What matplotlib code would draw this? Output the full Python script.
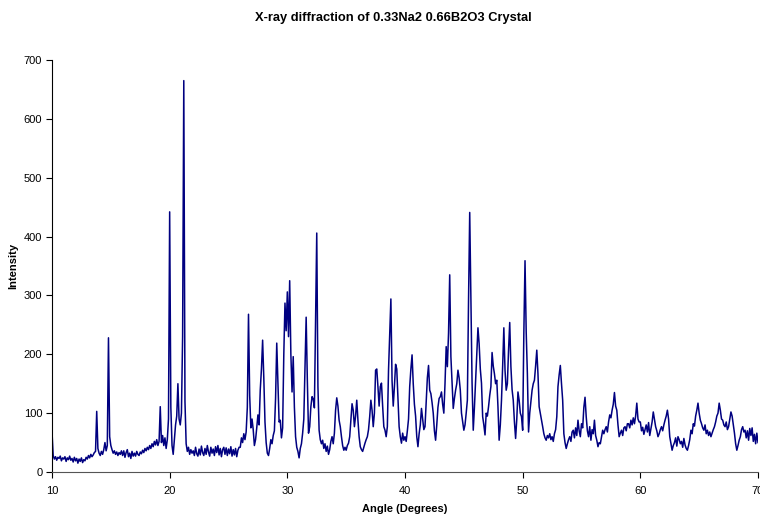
import numpy as np
import matplotlib
matplotlib.use("Agg")
import matplotlib.pyplot as plt

plt.rcParams['font.family'] = ['Liberation Sans', 'DejaVu Sans']

title = "X-ray diffraction of 0.33Na2 0.66B2O3 Crystal"
x_label = "Angle (Degrees)"
y_label = "Intensity"
x_ticks = [10, 20, 30, 40, 50, 60, 70]
y_ticks = [0, 100, 200, 300, 400, 500, 600, 700]

angle_start = 10.0
angle_step = 0.1

# intensity, one row per degree (10.0 ... 70.0)
intensity = [
    68, 28, 22, 26, 20, 25, 23, 27, 19, 24,        # 10
    22, 26, 18, 24, 21, 27, 20, 23, 17, 25,        # 11
    19, 23, 15, 22, 18, 24, 16, 21, 19, 25,        # 12
    22, 28, 24, 30, 26, 29, 33, 35, 103, 40,       # 13
    32, 28, 35, 30, 38, 50, 36, 45, 228, 60,       # 14
    45, 38, 32, 36, 30, 34, 28, 33, 30, 36,        # 15
    28, 36, 25, 33, 38, 26, 32, 23, 35, 27,        # 16
    32, 27, 35, 30, 28, 34, 31, 37, 33, 40,        # 17
    36, 42, 38, 45, 40, 48, 43, 52, 46, 55,        # 18
    45, 52, 111, 50, 62, 45, 58, 40, 55, 90,       # 19
    442, 110, 45, 30, 55, 80, 95, 150, 90, 80,     # 20
    100, 230, 665, 120, 48, 35, 42, 30, 38, 32,    # 21
    36, 28, 42, 31, 27, 39, 29, 44, 33, 28,        # 22
    40, 30, 45, 34, 27, 42, 32, 39, 28, 43,        # 23
    33, 45, 29, 40, 26, 38, 42, 30, 41, 28,        # 24
    39, 31, 43, 27, 38, 29, 40, 26, 37, 42,        # 25
    42, 58, 50, 65, 55, 68, 110, 268, 130, 75,     # 26
    90, 72, 45, 55, 75, 97, 80, 140, 175, 224,     # 27
    160, 85, 50, 32, 28, 40, 55, 48, 62, 70,       # 28
    125, 219, 150, 85, 88, 58, 75, 200, 287, 240,  # 29
    306, 230, 325, 200, 136, 196, 110, 60, 42, 35, # 30
    24, 40, 48, 66, 90, 173, 263, 156, 66, 77,     # 31
    111, 128, 124, 109, 258, 406, 145, 71, 55, 48, # 32
    54, 40, 48, 35, 44, 30, 38, 52, 60, 48,        # 33
    66, 105, 126, 112, 88, 77, 60, 45, 37, 42,     # 34
    37, 45, 49, 60, 88, 116, 105, 77, 95, 122,     # 35
    88, 60, 43, 38, 35, 42, 49, 55, 60, 72,        # 36
    94, 122, 105, 77, 100, 173, 175, 145, 112, 145,# 37
    151, 112, 77, 71, 60, 77, 173, 235, 294, 155,  # 38
    112, 145, 183, 175, 128, 77, 60, 49, 66, 54,   # 39
    60, 52, 70, 90, 145, 175, 199, 150, 115, 95,   # 40
    60, 43, 65, 80, 108, 90, 72, 77, 120, 160,     # 41
    181, 139, 133, 118, 100, 70, 54, 80, 110, 125, # 42
    128, 136, 115, 100, 150, 213, 179, 236, 335, 196, # 43
    151, 108, 125, 139, 150, 173, 160, 139, 100, 85,  # 44
    71, 80, 100, 122, 292, 441, 292, 151, 71, 110,    # 45
    156, 200, 245, 218, 175, 151, 94, 80, 63, 100,    # 46
    95, 111, 130, 145, 203, 180, 167, 150, 156, 111,  # 47
    54, 80, 122, 180, 245, 173, 139, 150, 207, 254,   # 48
    179, 140, 122, 85, 57, 90, 136, 122, 100, 94,     # 49
    71, 236, 359, 238, 167, 68, 100, 120, 139, 150,   # 50
    156, 180, 207, 167, 111, 100, 90, 77, 65, 58,     # 51
    54, 62, 58, 65, 55, 60, 52, 65, 72, 94,           # 52
    145, 165, 181, 150, 122, 65, 50, 40, 48, 55,      # 53
    60, 52, 68, 71, 58, 75, 62, 88, 70, 60,           # 54
    82, 75, 110, 127, 94, 70, 60, 77, 54, 72,         # 55
    65, 88, 62, 54, 43, 50, 48, 60, 71, 65,           # 56
    72, 77, 68, 85, 97, 92, 105, 115, 135, 112,       # 57
    105, 80, 60, 66, 71, 62, 75, 77, 70, 82,          # 58
    82, 75, 88, 80, 92, 82, 95, 117, 90, 85,          # 59
    85, 70, 76, 64, 72, 80, 68, 84, 62, 74,           # 60
    85, 102, 90, 77, 70, 60, 65, 72, 77, 70,          # 61
    80, 88, 95, 105, 90, 60, 48, 37, 45, 50,          # 62
    58, 44, 60, 55, 48, 52, 42, 57, 46, 40,           # 63
    37, 45, 55, 71, 65, 82, 78, 95, 105, 117,         # 64
    100, 88, 82, 75, 71, 80, 65, 71, 62, 68,          # 65
    60, 66, 72, 77, 85, 95, 100, 117, 105, 90,        # 66
    88, 80, 77, 85, 72, 77, 90, 102, 95, 80,          # 67
    66, 48, 37, 45, 54, 60, 72, 77, 68, 71,           # 68
    58, 70, 54, 74, 62, 75, 52, 64, 48, 66,           # 69
    50,                                               # 70
]

angle = angle_start + angle_step * np.arange(len(intensity))

fig = plt.figure(figsize=(7.6, 5.17), dpi=100)
ax = fig.add_axes([52/760, 1-472/517, 706/760, 412/517])
ax.plot(angle, intensity, color='#000080', linewidth=1.1)

ax.set_xlim(10, 70)
ax.set_ylim(0, 700)
ax.set_xticks(x_ticks)
ax.set_yticks(y_ticks)
for s in ['top', 'right']:
    ax.spines[s].set_visible(False)
ax.spines['left'].set_color('black')
ax.spines['bottom'].set_color('#555555')
ax.tick_params(axis='both', direction='out', length=4, width=0.8,
               labelsize=8, colors='black', pad=3)
ax.tick_params(axis='x', pad=6)

ax.set_xlabel(x_label, fontsize=8, fontweight='bold', labelpad=6)
ax.set_ylabel(y_label, fontsize=8, fontweight='bold', labelpad=4)
fig.text(393/760, 1-18/517, title, ha='center', va='center',
         fontsize=9.3, fontweight='bold')

fig.savefig('out.png', dpi=100)
